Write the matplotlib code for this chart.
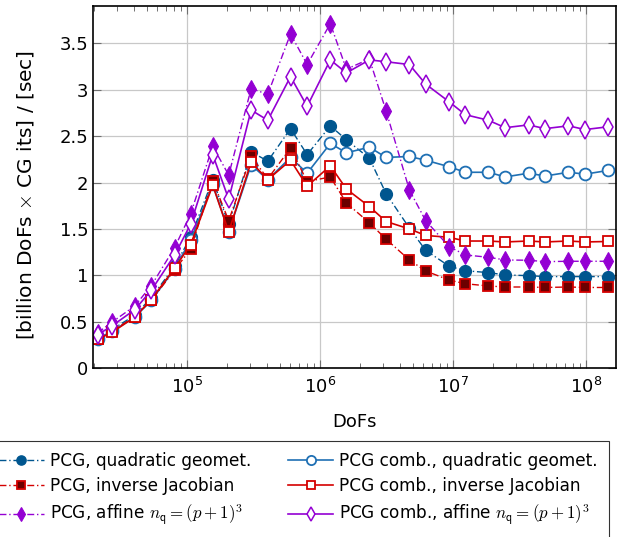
import matplotlib
matplotlib.use("Agg")
import matplotlib.pyplot as plt
from matplotlib.ticker import LogLocator, NullFormatter, FixedLocator

plt.rcParams['font.family'] = ['DejaVu Sans']
plt.rcParams['mathtext.fontset'] = 'cm'

dofs = [2.14e4, 2.77e4, 4.07e4, 5.43e4, 8.13e4, 1.07e5, 1.57e5, 2.07e5,
        3.05e5, 4.07e5, 6.03e5, 8.04e5, 1.20e6, 1.585e6, 2.36e6, 3.15e6,
        4.71e6, 6.24e6, 9.35e6, 1.24e7, 1.85e7, 2.47e7, 3.70e7, 4.93e7,
        7.38e7, 9.84e7, 1.47e8]

pcg_quad = [0.34, 0.42, 0.57, 0.76, 1.10, 1.41, 2.03, 1.55,
            2.33, 2.23, 2.58, 2.30, 2.61, 2.46, 2.26, 1.88,
            1.51, 1.27, 1.10, 1.05, 1.03, 1.005, 0.997, 0.987,
            0.987, 0.987, 0.987]
comb_quad = [0.32, 0.40, 0.55, 0.73, 1.07, 1.38, 1.98, 1.47,
             2.19, 2.03, 2.27, 2.10, 2.42, 2.32, 2.38, 2.27,
             2.28, 2.24, 2.17, 2.11, 2.11, 2.06, 2.10, 2.07,
             2.11, 2.09, 2.13]
pcg_invj = [0.31, 0.40, 0.556, 0.73, 1.06, 1.28, 2.02, 1.59,
            2.28, 2.04, 2.37, 2.01, 2.06, 1.78, 1.565, 1.39,
            1.166, 1.048, 0.95, 0.91, 0.886, 0.875, 0.875, 0.87,
            0.875, 0.87, 0.87]
comb_invj = [0.31, 0.39, 0.55, 0.74, 1.08, 1.33, 1.97, 1.47,
             2.22, 2.03, 2.24, 1.96, 2.18, 1.93, 1.74, 1.58,
             1.50, 1.43, 1.41, 1.37, 1.37, 1.36, 1.37, 1.36,
             1.37, 1.36, 1.365]
pcg_aff = [0.38, 0.50, 0.67, 0.89, 1.30, 1.66, 2.39, 2.08,
           3.01, 2.95, 3.60, 3.27, 3.71, 3.22, 3.33, 2.77,
           1.92, 1.59, 1.31, 1.22, 1.195, 1.166, 1.163, 1.148,
           1.152, 1.152, 1.152]
comb_aff = [0.36, 0.46, 0.63, 0.84, 1.22, 1.55, 2.30, 1.82,
            2.78, 2.67, 3.14, 2.82, 3.32, 3.18, 3.32, 3.30,
            3.27, 3.06, 2.87, 2.73, 2.67, 2.59, 2.62, 2.58,
            2.61, 2.57, 2.60]

labels = [
    "PCG, quadratic geomet.",
    "PCG comb., quadratic geomet.",
    "PCG, inverse Jacobian",
    "PCG comb., inverse Jacobian",
    r"PCG, affine $n_{\mathsf{q}} = (p+1)^3$",
    r"PCG comb., affine $n_{\mathsf{q}} = (p+1)^3$",
]

blue_dark = "#00568f"
blue = "#1f70b4"
red = "#d40000"
red_dark = "#6b0000"
purple = "#9400d3"
dashdot = (0, (5, 2, 1, 2))

fig = plt.figure(figsize=(6.42, 5.37), dpi=100)
ax = fig.add_axes([0.1449, 0.3142, 0.8146, 0.6746])

h = {}
h[0], = ax.plot(dofs, pcg_quad, color=blue_dark, ls=dashdot, lw=1.0,
                marker='o', ms=8.5, mfc=blue_dark, mec=blue_dark, label=labels[0])
h[1], = ax.plot(dofs, comb_quad, color=blue, ls='-', lw=1.2,
                marker='o', ms=8.5, mfc='white', mec=blue, mew=1.3, label=labels[1])
h[2], = ax.plot(dofs, pcg_invj, color=red, ls=dashdot, lw=1.0,
                marker='s', ms=7.5, mfc=red_dark, mec=red, mew=1.3, label=labels[2])
h[3], = ax.plot(dofs, comb_invj, color=red, ls='-', lw=1.2,
                marker='s', ms=7.5, mfc='white', mec=red, mew=1.3, label=labels[3])
h[4], = ax.plot(dofs, pcg_aff, color=purple, ls=dashdot, lw=1.0,
                marker='d', ms=9, mfc=purple, mec=purple, mew=0.8, label=labels[4])
h[5], = ax.plot(dofs, comb_aff, color=purple, ls='-', lw=1.2,
                marker='d', ms=9, mfc='white', mec=purple, mew=1.1, label=labels[5])

ax.set_xscale('log')
ax.set_xlim(1.98e4, 1.68e8)
ax.set_ylim(0, 3.9)
ax.yaxis.set_major_locator(FixedLocator([0, 0.5, 1, 1.5, 2, 2.5, 3, 3.5]))
ax.set_yticklabels(["0", "0.5", "1", "1.5", "2", "2.5", "3", "3.5"])
ax.xaxis.set_major_locator(LogLocator(base=10, numticks=12))
ax.xaxis.set_minor_locator(LogLocator(base=10, subs=range(2, 10), numticks=12))
ax.xaxis.set_minor_formatter(NullFormatter())

ax.grid(True, which='major', color='#c8c8c8', lw=0.9)
ax.set_axisbelow(True)
ax.tick_params(which='both', direction='in', top=True, right=True,
               labelsize=13, color='#707070')
ax.tick_params(which='major', length=6, width=0.8)
ax.tick_params(which='minor', length=3.5, width=0.7)
ax.tick_params(axis='x', pad=6)
for s in ax.spines.values():
    s.set_linewidth(1.2)

ax.set_xlabel("DoFs", fontsize=13, labelpad=12)
ax.set_ylabel(r"[billion DoFs $\times$ CG its] / [sec]", fontsize=14.5)
ax.yaxis.set_label_coords(-0.109, 0.478)

order = [0, 2, 4, 1, 3, 5]
leg = fig.legend([h[i] for i in order], [labels[i] for i in order],
                 ncol=2, loc='upper left', bbox_to_anchor=(-0.019, 0.1788),
                 borderaxespad=0.0, markerscale=0.78,
                 fontsize=12.2, frameon=True, fancybox=False, edgecolor='black',
                 numpoints=1, handlelength=2.65, handletextpad=0.35,
                 columnspacing=2.2, labelspacing=0.42, borderpad=0.65)
leg.get_frame().set_linewidth(0.8)

fig.savefig("out.png", dpi=100)
